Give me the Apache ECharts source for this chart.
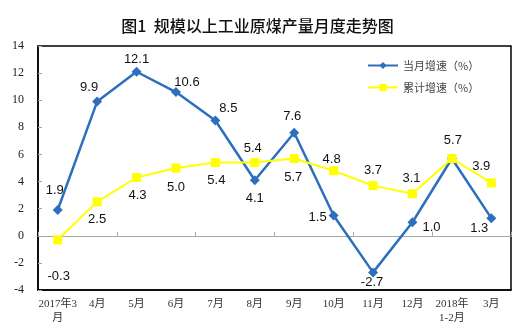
<!DOCTYPE html>
<html>
<head>
<meta charset="utf-8">
<script src="https://cdn.jsdelivr.net/npm/echarts@6/dist/echarts.min.js"></script>
<style>html,body{margin:0;padding:0;background:#fff;}#c{width:515px;height:333px;}</style>
</head>
<body>
<div id="c"></div>
<script>
var categories = ['2017年3\n月','4月','5月','6月','7月','8月','9月','10月','11月','12月','2018年\n1-2月','3月'];
var monthly = [1.9, 9.9, 12.1, 10.6, 8.5, 4.1, 7.6, 1.5, -2.7, 1.0, 5.7, 1.3];
var cumulative = [-0.3, 2.5, 4.3, 5.0, 5.4, 5.4, 5.7, 4.8, 3.7, 3.1, 5.7, 3.9];
var seriesNames = ['当月增速（%）', '累计增速（%）'];
var yTicks = [-4, -2, 0, 2, 4, 6, 8, 10, 12, 14];

// label offsets (styling)
var monthlyOffsets = [[-3,-20],[-8,-14],[0,-12],[11,-10],[13,-12],[0,18],[-2,-16],[-16,2],[-1,10],[19,5],[1,-18],[-12,10]];
var cumulativeOffsets = [[1,37],[0,18],[1,18],[0,19],[1,18],[-2,-14],[-1,19],[-2,-11],[0,-15],[-1,-15],null,[-10,-16]];

var labelFont = {fontFamily:'Liberation Sans, Arial, sans-serif', fontSize:13, color:'#111'};

function buildData(vals, offs){
  return vals.map(function(v,i){
    var o = offs[i];
    if(!o) return {value:v, label:{show:false}};
    return {value:v, label:Object.assign({show:true, position:'inside', offset:o, align:'center', verticalAlign:'middle',
      formatter:function(p){return p.value.toFixed(1);}}, labelFont)};
  });
}

var chart = echarts.init(document.getElementById('c'));
chart.setOption({
  animation:false,
  backgroundColor:'#fff',
  title:{text:'图1  规模以上工业原煤产量月度走势图', left:'center', top:13,
    textStyle:{fontFamily:'Noto Sans CJK SC', fontSize:16, fontWeight:500, color:'#111'}},
  legend:{orient:'vertical', left:362, top:55, itemWidth:30, itemHeight:9, itemGap:11,
    textStyle:{fontFamily:'Noto Sans CJK SC', fontSize:11, color:'#444'},
    data:seriesNames},
  grid:{left:38, right:4, top:46, bottom:43, show:true, borderColor:'#000', borderWidth:1.5, containLabel:false},
  xAxis:[{
    type:'category', data:categories, position:'bottom', boundaryGap:true,
    axisLine:{onZero:false, lineStyle:{color:'#000', width:1.5}},
    axisTick:{show:false},
    axisLabel:{interval:0, margin:7, lineHeight:14, fontFamily:'Liberation Serif, Noto Sans CJK SC', fontSize:11, color:'#333'}
  },{
    type:'category', data:categories, position:'bottom', boundaryGap:true,
    axisLine:{onZero:true, lineStyle:{color:'#a6a6a6', width:1}},
    axisTick:{show:true, inside:true, length:4, lineStyle:{color:'#a6a6a6'}},
    axisLabel:{show:false}
  }],
  yAxis:{
    type:'value', min:yTicks[0], max:yTicks[yTicks.length-1], interval:2,
    axisLine:{show:true, lineStyle:{color:'#000', width:1.5}},
    axisTick:{show:true, inside:true, length:4, lineStyle:{color:'#a6a6a6'}},
    splitLine:{show:false},
    axisLabel:{margin:14, fontFamily:'Liberation Serif, serif', fontSize:12, color:'#222'}
  },
  series:[{
    name:seriesNames[0], type:'line', data:buildData(monthly, monthlyOffsets),
    symbol:'diamond', symbolSize:10, lineStyle:{color:'#2e6fbd', width:2.5},
    itemStyle:{color:'#2e6fbd'}, z:2
  },{
    name:seriesNames[1], type:'line', data:buildData(cumulative, cumulativeOffsets),
    symbol:'rect', symbolSize:9, lineStyle:{color:'#ffff00', width:2},
    itemStyle:{color:'#ffff00'}, z:3
  }]
});
</script>
</body>
</html>
